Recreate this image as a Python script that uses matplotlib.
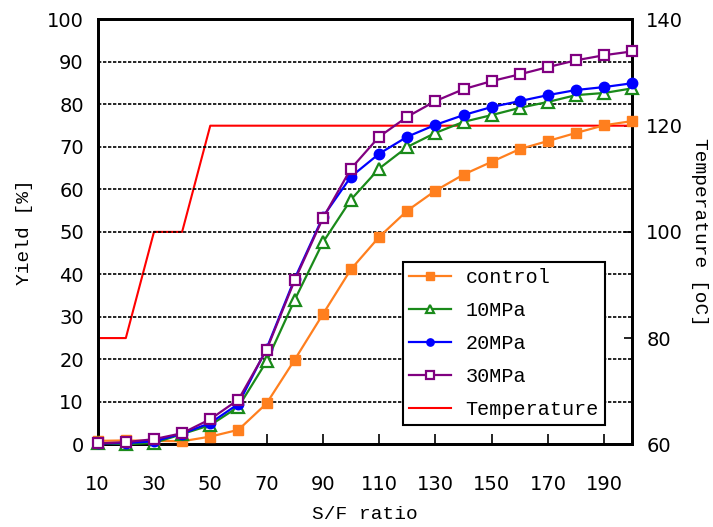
import matplotlib
matplotlib.use("Agg")
import matplotlib.pyplot as plt

sf_ratio = [10, 20, 30, 40, 50, 60, 70, 80, 90, 100, 110, 120, 130, 140, 150, 160, 170, 180, 190, 200]

control = [0.8, 0.9, 0.8, 0.7, 1.8, 3.4, 9.6, 19.9, 30.6, 41.2, 48.8, 55.0, 59.7, 63.5, 66.5, 69.5, 71.4, 73.3, 75.1, 76.1]
mpa10 = [0.3, 0.0, 0.3, 2.4, 4.5, 8.8, 19.5, 34.0, 47.5, 57.6, 64.9, 70.0, 73.3, 75.9, 77.5, 79.2, 80.6, 82.2, 82.7, 83.8]
mpa20 = [0.2, 0.3, 0.7, 2.5, 5.0, 9.5, 22.5, 39.0, 53.5, 63.0, 68.4, 72.4, 75.2, 77.5, 79.4, 80.8, 82.2, 83.4, 84.1, 85.0]
mpa30 = [0.2, 0.5, 1.2, 2.6, 5.9, 10.5, 22.2, 38.6, 53.2, 64.9, 72.4, 77.1, 80.8, 83.6, 85.5, 87.1, 88.8, 90.4, 91.6, 92.5]

temp_x = [10, 20, 30, 40, 50, 200]
temp_c = [80, 80, 100, 100, 120, 120]

x_ticks = [10, 30, 50, 70, 90, 110, 130, 150, 170, 190]

fig, ax = plt.subplots(figsize=(7.13, 5.27), dpi=100)
fig.subplots_adjust(left=0.137, right=0.887, bottom=0.157, top=0.963)
ax2 = ax.twinx()

mono = "Liberation Mono"

l1, = ax.plot(sf_ratio, control, color="#FF7F1E", marker="s", ms=7.5, lw=1.6,
              label="control", clip_on=False, zorder=3)
l2, = ax.plot(sf_ratio, mpa10, color="#1A8A1A", marker="^", ms=8.5, mfc="white",
              mew=1.6, lw=1.6, label="10MPa", clip_on=False, zorder=3)
l3, = ax.plot(sf_ratio, mpa20, color="#0000FF", marker="o", ms=7.5, lw=1.6,
              label="20MPa", clip_on=False, zorder=3)
l4, = ax.plot(sf_ratio, mpa30, color="#800080", marker="s", ms=7.5, mfc="white",
              mew=1.6, lw=1.6, label="30MPa", clip_on=False, zorder=4)

# temperature on the right axis
l5, = ax2.plot(temp_x, temp_c, color="#FF0000", lw=1.5, label="Temperature")

ax.set_xlim(10, 200)
ax.set_ylim(0, 100)
ax2.set_ylim(60, 140)
ax.set_xticks(x_ticks)
ax.set_yticks(range(0, 101, 10))
ax2.set_yticks(range(60, 141, 20))

ax.yaxis.grid(True, color="black", ls=(0, (2, 1)), lw=1.2)
ax.set_axisbelow(True)

ax.tick_params(axis="x", direction="in", length=7, width=1.2, pad=22, labelsize=14)
ax.tick_params(axis="y", direction="in", length=0, pad=10, labelsize=14)
ax2.tick_params(axis="y", direction="in", length=6, width=1.2, pad=10, labelsize=14)
for lbl in ax.get_xticklabels() + ax.get_yticklabels() + ax2.get_yticklabels():
    lbl.set_fontfamily("DejaVu Sans")

for a in (ax, ax2):
    for s in a.spines.values():
        s.set_linewidth(2)
        s.set_color("black")

ax.set_xlabel("S/F ratio", fontfamily=mono, fontsize=14, labelpad=9)
ax.set_ylabel("Yield [%]", fontfamily=mono, fontsize=14, labelpad=10)
ax2.set_ylabel("Temperature [oC]", fontfamily=mono, fontsize=14, rotation=270, labelpad=18)

ax2.set_zorder(0)
ax.set_zorder(1)
ax.patch.set_visible(False)

leg = ax.legend(handles=[l1, l2, l3, l4, l5], loc="lower left",
                bbox_to_anchor=(0.571, 0.045), borderaxespad=0,
                prop={"family": mono, "size": 14.5},
                fancybox=False, framealpha=1, edgecolor="black",
                handlelength=2.1, handletextpad=0.7, markerscale=0.7,
                borderpad=0.3, labelspacing=0.7)
leg.get_frame().set_linewidth(1.5)

fig.savefig("out.png", dpi=100)
